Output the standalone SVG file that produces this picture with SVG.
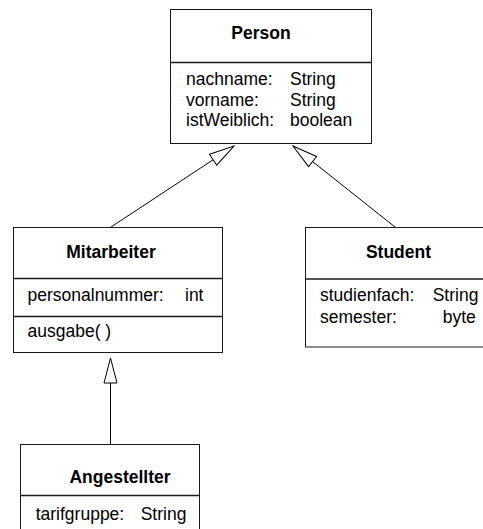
<svg xmlns="http://www.w3.org/2000/svg" width="483" height="529" viewBox="0 0 483 529">
<style>
.box{fill:#fff;stroke:#1a1a1a;stroke-width:1}
.div{stroke:#1a1a1a;stroke-width:1.3}
.t{font-family:"Liberation Sans",Arial,sans-serif;font-size:17.5px;font-weight:bold;text-anchor:middle;fill:#000}
.a{font-family:"Liberation Sans",Arial,sans-serif;font-size:17.5px;fill:#000}
.c{stroke:#000;stroke-width:1;fill:none;marker-end:url(#gen)}
</style>
<defs>
<marker id="gen" markerUnits="userSpaceOnUse" viewBox="-1 -1 27 15" markerWidth="27" markerHeight="15" refX="25" refY="6.5" orient="auto">
<path d="M0,0 L25,6.5 L0,13 Z" fill="#fff" stroke="#000" stroke-width="1"/>
</marker>
</defs>
<rect width="483" height="529" fill="#fff"/>
<g id="connectors">
<line class="c" x1="111" y1="227" x2="234" y2="146"/>
<line class="c" x1="395" y1="227" x2="293" y2="146"/>
<line class="c" x1="110.5" y1="444" x2="110.5" y2="358"/>
</g>
<g id="Person">
<rect class="box" x="170.5" y="9.5" width="201" height="134"/>
<line class="div" x1="170.5" y1="62.5" x2="371.5" y2="62.5"/>
<text class="t" x="261" y="39">Person</text>
<text class="a" x="186" y="85">nachname:</text>
<text class="a" x="290" y="85">String</text>
<text class="a" x="186" y="106">vorname:</text>
<text class="a" x="290" y="106">String</text>
<text class="a" x="186" y="126">istWeiblich:</text>
<text class="a" x="290" y="126">boolean</text>
</g>
<g id="Mitarbeiter">
<rect class="box" x="13.5" y="227.5" width="209" height="125"/>
<line class="div" x1="13.5" y1="278.5" x2="222.5" y2="278.5"/>
<line class="div" x1="13.5" y1="316.5" x2="222.5" y2="316.5"/>
<text class="t" x="111" y="258">Mitarbeiter</text>
<text class="a" x="27.5" y="301">personalnummer:</text>
<text class="a" x="185" y="301">int</text>
<text class="a" x="27.5" y="337">ausgabe( )</text>
</g>
<g id="Student">
<rect class="box" x="305.5" y="227.5" width="200" height="119.5"/>
<line class="div" x1="305.5" y1="279" x2="505.5" y2="279"/>
<text class="t" x="398.5" y="258">Student</text>
<text class="a" x="320" y="301">studienfach:</text>
<text class="a" x="432.7" y="301">String</text>
<text class="a" x="320" y="322.5">semester:</text>
<text class="a" x="442.7" y="322.5">byte</text>
</g>
<g id="Angestellter">
<rect class="box" x="20.5" y="444.5" width="179" height="100"/>
<line class="div" x1="20.5" y1="495.5" x2="199.5" y2="495.5"/>
<text class="t" x="120" y="483">Angestellter</text>
<text class="a" x="35.7" y="520">tarifgruppe:</text>
<text class="a" x="140.7" y="520">String</text>
</g>
</svg>
